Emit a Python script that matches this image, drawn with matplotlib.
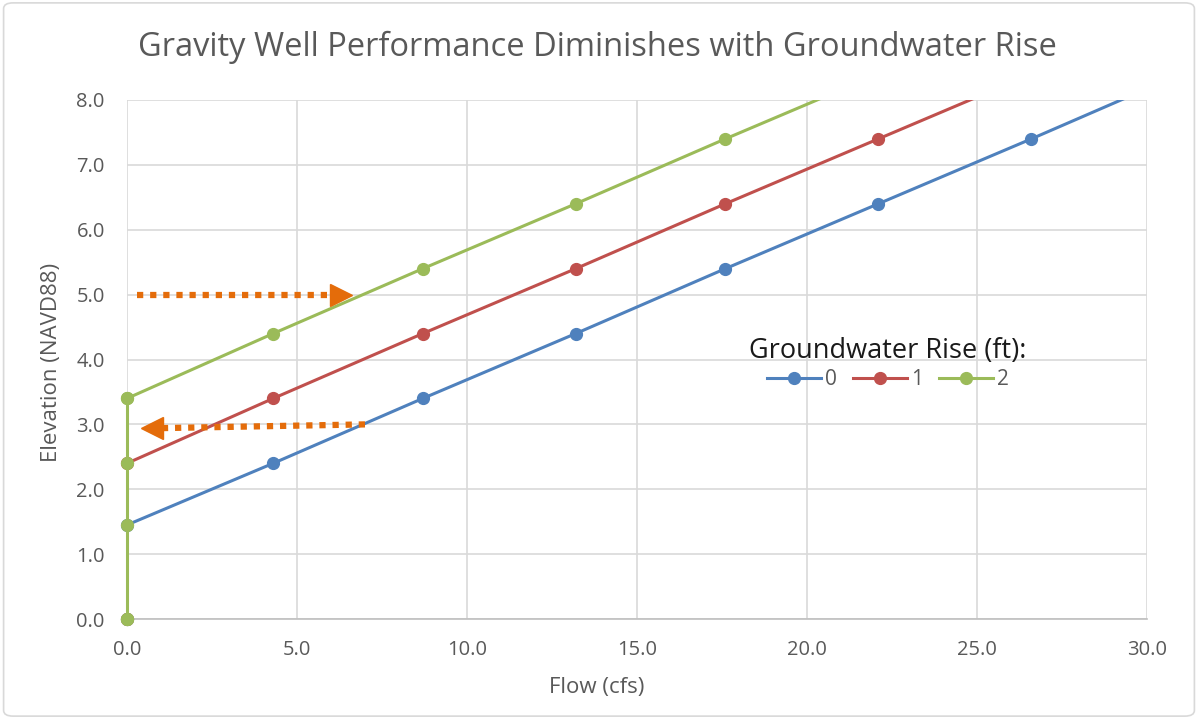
import matplotlib
matplotlib.use('Agg')
import matplotlib.pyplot as plt
import numpy as np
from matplotlib.ticker import FormatStrFormatter, MultipleLocator
from matplotlib.patches import FancyBboxPatch

plt.rcParams['font.family'] = ['Open Sans', 'DejaVu Sans']

########## Data ##########
rise_labels = ['0', '1', '2']
flow_0 = [0, 0, 4.3, 8.7, 13.2, 17.6, 22.1, 26.6, 31.0]
elev_0 = [0, 1.45, 2.4, 3.4, 4.4, 5.4, 6.4, 7.4, 8.4]
flow_1 = [0, 0, 4.3, 8.7, 13.2, 17.6, 22.1, 26.6]
elev_1 = [0, 2.4, 3.4, 4.4, 5.4, 6.4, 7.4, 8.4]
flow_2 = [0, 0, 4.3, 8.7, 13.2, 17.6, 22.1]
elev_2 = [0, 3.4, 4.4, 5.4, 6.4, 7.4, 8.4]

# dotted arrows: (x_start, y_start) -> (x_end, y_end)
arrow_up_x = [0.3, 6.3]
arrow_up_y = [5.0, 5.0]
arrow_down_x = [7.0, 0.75]
arrow_down_y = [3.0, 2.94]

colors = ['#4F81BD', '#C0504D', '#9BBB59']
orange = '#E46C0A'
gray_txt = '#595959'

fig = plt.figure(figsize=(11.98, 7.19), dpi=100)
ax = fig.add_axes([0.106, 0.139, 0.8514, 0.722])

series = [(flow_0, elev_0), (flow_1, elev_1), (flow_2, elev_2)]
handles = []
for (fx, ey), c in zip(series, colors):
    fx = np.array(fx, dtype=float)
    ey = np.array(ey, dtype=float)
    # the line runs past the top and is clipped there
    ax.plot(fx, ey, color=c, lw=2.2, zorder=2)
    inside = ey <= 8.0
    ax.plot(fx[inside], ey[inside], ls='none', marker='o', ms=8.5, color=c,
            clip_on=False, zorder=3)
    handles.append(ax.plot([], [], color=c, lw=2.2, marker='o', ms=8.5)[0])

# green series sits on top at x=0 and hides the other two there
ax.plot(flow_2[:2], elev_2[:2], color=colors[2], lw=2.2, zorder=4, clip_on=False)
ax.plot([0, 0, 0, 0], [elev_2[0], elev_0[1], elev_1[1], elev_2[1]], ls='none',
        marker='o', ms=8.5, color=colors[2], zorder=4, clip_on=False)

########## Orange dotted arrows ##########
for xs, ys, mk in [(arrow_up_x, arrow_up_y, '>'), (arrow_down_x, arrow_down_y, '<')]:
    ax.plot(xs, ys, color=orange, lw=4.5, ls=(0, (1, 1.1)), dash_capstyle='butt',
            zorder=5)
    ax.plot(xs[-1], ys[-1], marker=mk, ms=16, color=orange, ls='none', zorder=5)

########## Axes styling ##########
ax.set_xlim(0, 30)
ax.set_ylim(0, 8)
ax.xaxis.set_major_locator(MultipleLocator(5))
ax.yaxis.set_major_locator(MultipleLocator(1))
ax.xaxis.set_major_formatter(FormatStrFormatter('%.1f'))
ax.yaxis.set_major_formatter(FormatStrFormatter('%.1f'))
ax.grid(True, color='#D9D9D9', lw=1.2, zorder=0)
ax.set_axisbelow(True)
for s in ['top', 'right', 'left']:
    ax.spines[s].set_visible(False)
ax.spines['bottom'].set_color('#BFBFBF')
ax.spines['bottom'].set_linewidth(1.2)
ax.tick_params(axis='both', length=0, labelsize=14.5, labelcolor=gray_txt)
ax.tick_params(axis='x', pad=15)
ax.tick_params(axis='y', pad=16)

fig.text(597 / 1198, 1 - 688 / 719, 'Flow (cfs)', fontsize=16, color=gray_txt,
         ha='center', va='center')
fig.text(52 / 1198, 1 - 362 / 719, 'Elevation (NAVD88)', fontsize=16,
         color=gray_txt, ha='center', va='center', rotation=90)
fig.text(0.499, 1 - 47 / 719,
         'Gravity Well Performance Diminishes with Groundwater Rise',
         fontsize=23.5, color=gray_txt, ha='center', va='center')

leg = ax.legend(handles, rise_labels, title='Groundwater Rise (ft):', ncol=3,
                loc='center', bbox_to_anchor=(0.741, 0.494),
                bbox_transform=fig.transFigure, frameon=False,
                handlelength=2.6, handletextpad=0.2, columnspacing=0.75,
                fontsize=15, title_fontsize=19.5, borderpad=0.2, labelspacing=0.2)
leg.get_title().set_color('#1A1A1A')
for t in leg.get_texts():
    t.set_color(gray_txt)

# outer chart border
fig.patches.append(FancyBboxPatch((0.003, 0.004), 0.994, 0.992,
                                  boxstyle='round,pad=0,rounding_size=0.008',
                                  transform=fig.transFigure, fill=False,
                                  edgecolor='#D9D9D9', lw=1.2))

fig.savefig('out.png', dpi=100)
